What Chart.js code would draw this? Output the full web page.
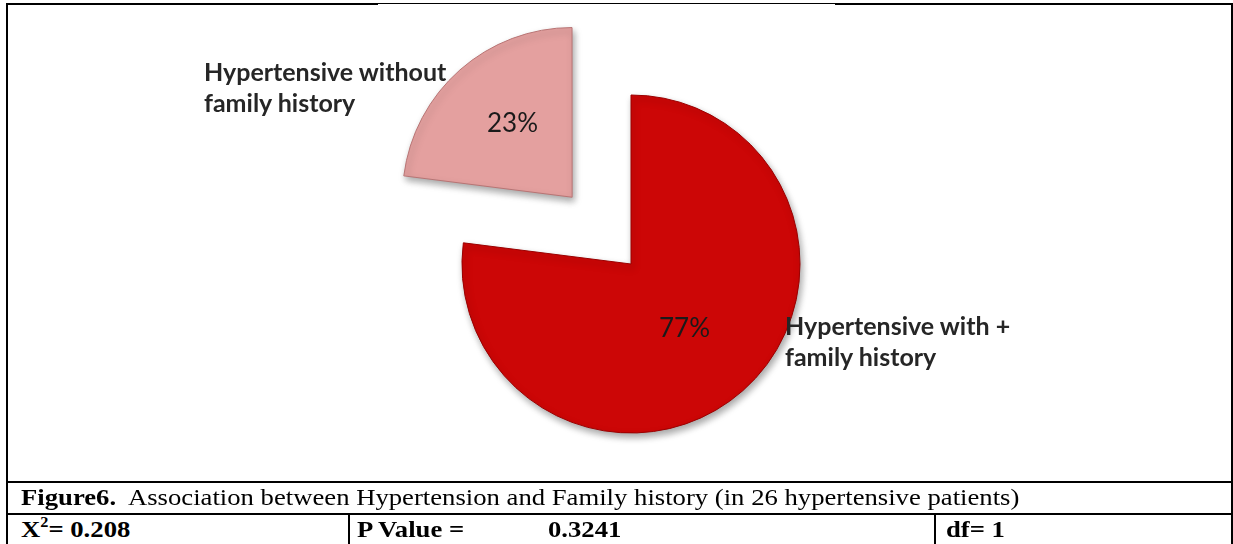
<!DOCTYPE html>
<html>
<head>
<meta charset="utf-8">
<script src="https://cdn.jsdelivr.net/npm/chart.js@4.4.1/dist/chart.umd.min.js"></script>
<style>
  html, body { margin: 0; padding: 0; background: #fff; }
  body { width: 1233px; height: 544px; position: relative; overflow: hidden; }
  .abs { position: absolute; }
  .box { left: 6px; top: 3px; width: 1223px; height: 560px; border: 2px solid #000; }
  .topgap { left: 378px; top: 3px; width: 457px; height: 2px; background: #fff; border-top: 1px solid #000; box-sizing: border-box; }
  .hline { left: 6px; width: 1227px; height: 2px; background: #000; }
  .vline { width: 2px; background: #000; }
  #chartWrap { left: 371px; top: 4px; width: 520px; height: 520px; }
  .lbl { font-family: Lato, "Noto Sans", sans-serif; font-weight: bold; color: #262626; font-size: 25px; line-height: 31px; white-space: nowrap; }
  .pct { font-family: Lato, "Noto Sans", sans-serif; color: #1a1a1a; font-size: 26px; white-space: nowrap; }
  .serif { font-family: "Liberation Serif", "Times New Roman", serif; font-size: 23px; line-height: 26px; color: #000; white-space: nowrap; transform: scaleX(1.16); transform-origin: 0 0; }
  b { font-weight: bold; }
</style>
</head>
<body>
<div class="abs box"></div>
<div class="abs topgap"></div>
<div class="abs hline" style="top:481px"></div>
<div class="abs hline" style="top:513px"></div>
<div class="abs vline" style="left:348px; top:513px; height:40px"></div>
<div class="abs vline" style="left:934px; top:513px; height:40px"></div>

<div id="chartWrap" class="abs"><canvas id="c" width="520" height="520"></canvas></div>

<div class="abs lbl" id="lblB" style="left:204px; top:56px">Hypertensive without<br>family history</div>
<div class="abs lbl" id="lblA" style="left:785px; top:310px">Hypertensive with +<br>family history</div>
<div class="abs pct" id="pctB" style="left:487px; top:106px"></div>
<div class="abs pct" id="pctA" style="left:659px; top:311px"></div>

<div class="abs serif" id="caption" style="left:21px; top:485px"><b>Figure6.</b>&nbsp; Association between Hypertension and Family history (in 26 hypertensive patients)</div>
<div class="abs serif" style="left:21px; top:517px"><b>X<sup style="font-size:14px; vertical-align:10px; line-height:0">2</sup>= 0.208</b></div>
<div class="abs serif" style="left:357px; top:517px"><b>P Value =</b></div>
<div class="abs serif" style="left:548px; top:517px"><b>0.3241</b></div>
<div class="abs serif" style="left:946px; top:517px"><b>df= 1</b></div>

<script>
const categories = ["Hypertensive with + family history", "Hypertensive without family history"];
const percentages = [77, 23];
const sliceColors = ["#cc0606", "#e4a09f"];
const sliceBorders = ["#9a0000", "#b87474"];
const sliceOffsets = [0, 356];

document.getElementById('pctA').textContent = percentages[0] + '%';
document.getElementById('pctB').textContent = percentages[1] + '%';

const shadowPlugin = {
  id: 'shadow',
  beforeDatasetsDraw(chart) {
    const ctx = chart.ctx;
    ctx.save();
    ctx.shadowColor = 'rgba(0,0,0,0.35)';
    ctx.shadowBlur = 7;
    ctx.shadowOffsetX = 2;
    ctx.shadowOffsetY = 4;
  },
  afterDatasetsDraw(chart) {
    chart.ctx.restore();
  }
};

new Chart(document.getElementById('c'), {
  type: 'pie',
  data: {
    labels: categories,
    datasets: [{
      data: percentages,
      backgroundColor: sliceColors,
      borderColor: sliceBorders,
      borderWidth: 1,
      offset: sliceOffsets
    }]
  },
  options: {
    responsive: false,
    animation: false,
    radius: 169,
    layout: { padding: 0 },
    plugins: { legend: { display: false }, tooltip: { enabled: false } }
  },
  plugins: [shadowPlugin]
});
</script>
</body>
</html>
